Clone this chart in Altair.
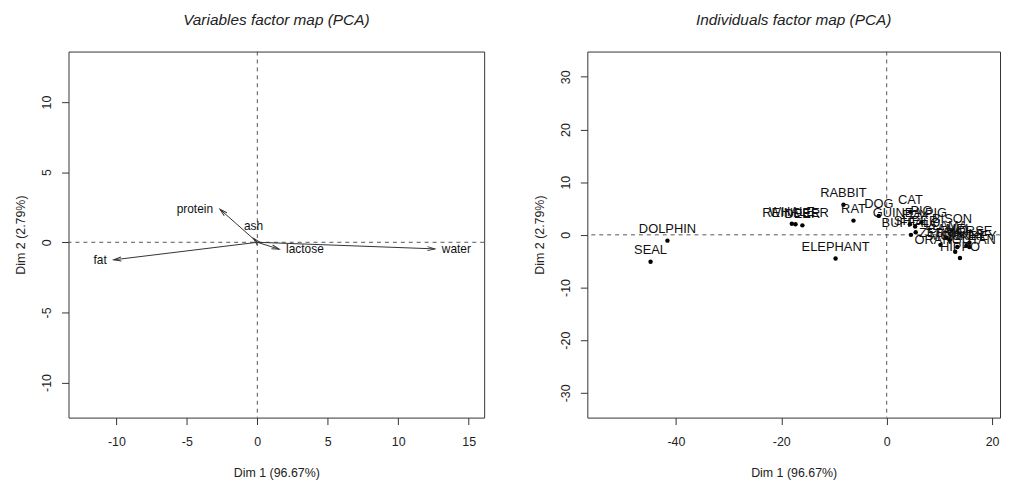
import altair as alt
import pandas as pd

# ---------------- data ----------------
var_names = ["water", "protein", "fat", "lactose", "ash"]
var_dim1 = [12.6, -2.65, -10.19, 1.55, -0.27]
var_dim2 = [-0.47, 2.35, -1.25, -0.49, 0.28]

ind_names = ["HORSE", "ORANGUTAN", "MONKEY", "DONKEY", "HIPPO", "CAMEL", "BISON",
             "BUFFALO", "GUINEA PIG", "CAT", "FOX", "LLAMA", "MULE", "PIG", "ZEBRA",
             "SHEEP", "DOG", "ELEPHANT", "RABBIT", "RAT", "DEER", "REINDEER",
             "WHALE", "SEAL", "DOLPHIN"]
ind_dim1 = [15.7, 13.0, 13.4, 15.7, 13.9, 12.0, 12.4, 4.6, 4.4, 4.5, 5.4, 11.3,
            15.1, 6.6, 10.2, 5.5, -1.5, -9.7, -8.2, -6.3, -16.0, -17.3, -18.0,
            -44.8, -41.6]
ind_dim2 = [-1.5, -3.2, -2.3, -2.3, -4.4, -1.0, 0.9, 0.0, 2.0, 4.4, 1.6, -0.5,
            -2.1, 2.4, -1.9, 0.5, 3.6, -4.5, 5.7, 2.7, 1.8, 2.0, 2.1, -5.1, -1.1]

left_xticks = [-10, -5, 0, 5, 10, 15]
left_yticks = [-10, -5, 0, 5, 10]
right_xticks = [-40, -20, 0, 20]
right_yticks = [-30, -20, -10, 0, 10, 20, 30]

x_title = "Dim 1 (96.67%)"
y_title = "Dim 2 (2.79%)"
left_title = "Variables factor map (PCA)"
right_title = "Individuals factor map (PCA)"

# ---------------- styling ----------------
FONT = "Liberation Sans"
INK = "#222222"
label_side = {"water": "right", "protein": "left", "fat": "left",
              "lactose": "right", "ash": "top"}

vdf = pd.DataFrame({"name": var_names, "d1": var_dim1, "d2": var_dim2})
vdf["side"] = vdf["name"].map(label_side)
vdf["zero"] = 0.0
idf = pd.DataFrame({"name": ind_names, "d1": ind_dim1, "d2": ind_dim2})
origin = pd.DataFrame({"v": [0]})


def x_axis(vals):
    return alt.Axis(values=vals, title=x_title, grid=False, domain=False,
                    tickSize=7, tickColor="#333", tickWidth=1,
                    labelPadding=17, labelBaseline="middle", labelAlign="center",
                    labelFont=FONT, labelFontSize=12.5, labelColor=INK,
                    labelExpr="'' + datum.value", labelFlush=False, labelOverlap=False,
                    titleFont=FONT, titleFontSize=12.5, titleFontWeight="normal",
                    titleColor=INK, titleY=55, titleBaseline="middle")


def y_axis(vals):
    return alt.Axis(values=vals, title=y_title, grid=False, domain=False,
                    tickSize=7, tickColor="#333", tickWidth=1,
                    labelAngle=270, labelAlign="center", labelBaseline="middle",
                    labelPadding=15, labelFont=FONT, labelFontSize=12.5,
                    labelColor=INK, labelExpr="'' + datum.value",
                    labelFlush=False, labelOverlap=False,
                    titleFont=FONT, titleFontSize=12.5, titleFontWeight="normal",
                    titleColor=INK, titleAngle=270, titleX=-48,
                    titleBaseline="middle", titleAlign="center")


def panel_title(text):
    return alt.TitleParams(text, font=FONT, fontSize=15.5, fontStyle="italic",
                           fontWeight="normal", color=INK, anchor="middle",
                           frame="group", baseline="middle", offset=16)


# ---------------- left: variables ----------------
lx = alt.Scale(domain=[-13.4, 16.1], nice=False, zero=False)
ly = alt.Scale(domain=[-12.5, 13.6], nice=False, zero=False)
LX = lambda f: alt.X(f, type="quantitative", scale=lx, axis=x_axis(left_xticks))
LY = lambda f: alt.Y(f, type="quantitative", scale=ly, axis=y_axis(left_yticks))

l_vrule = alt.Chart(origin).mark_rule(color="#555", strokeDash=[4, 4], strokeWidth=1).encode(x=LX("v"))
l_hrule = alt.Chart(origin).mark_rule(color="#555", strokeDash=[4, 4], strokeWidth=1).encode(y=LY("v"))

shafts = alt.Chart(vdf).mark_rule(color="#333", strokeWidth=1).encode(
    x=LX("zero"), y=LY("zero"), x2="d1", y2="d2")

heads = alt.Chart(vdf).transform_calculate(
    ang="(atan2(-datum.d2, datum.d1) * 180 / PI + 360) % 360"
).mark_point(shape="M-1,-0.27L0,0L-1,0.27", filled=False, size=225,
             color="#333", strokeWidth=1, opacity=1).encode(
    x=LX("d1"), y=LY("d2"), angle=alt.Angle("ang:Q", scale=None))

def var_labels(side, **kw):
    return alt.Chart(vdf).transform_filter(
        alt.datum.side == side
    ).mark_text(font=FONT, fontSize=12, color="#111", baseline="middle", **kw).encode(
        x=LX("d1"), y=LY("d2"), text="name:N")

lab_r = var_labels("right", align="left", dx=7)
lab_l = var_labels("left", align="right", dx=-7)
lab_t = var_labels("top", align="center", dy=-12)

left = alt.layer(l_vrule, l_hrule, shafts, heads, lab_r, lab_l, lab_t).properties(
    width=419, height=369, title=panel_title(left_title))

# ---------------- right: individuals ----------------
rx = alt.Scale(domain=[-56.8, 21.5], nice=False, zero=False)
ry = alt.Scale(domain=[-34.7, 34.8], nice=False, zero=False)
RX = lambda f: alt.X(f, type="quantitative", scale=rx, axis=x_axis(right_xticks))
RY = lambda f: alt.Y(f, type="quantitative", scale=ry, axis=y_axis(right_yticks))

r_vrule = alt.Chart(origin).mark_rule(color="#555", strokeDash=[4, 4], strokeWidth=1).encode(x=RX("v"))
r_hrule = alt.Chart(origin).mark_rule(color="#555", strokeDash=[4, 4], strokeWidth=1).encode(y=RY("v"))

pts = alt.Chart(idf).mark_circle(size=20, color="black", opacity=1).encode(
    x=RX("d1"), y=RY("d2"))
ind_labels = alt.Chart(idf).mark_text(font=FONT, fontSize=13, color="#111",
                                      baseline="middle", align="center", dy=-11.5,
                                      clip=True).encode(
    x=RX("d1"), y=RY("d2"), text="name:N")

right = alt.layer(r_vrule, r_hrule, pts, ind_labels).properties(
    width=416, height=369, title=panel_title(right_title))

chart = alt.hconcat(left, right, spacing=104, bounds="flush").properties(
    padding={"left": 6, "top": 2, "right": 0, "bottom": 0}
).configure(
    background="white",
    view=alt.ViewConfig(stroke="#333", strokeWidth=1),
)

chart.save("out.html", embed_options={"renderer": "svg", "actions": False})
